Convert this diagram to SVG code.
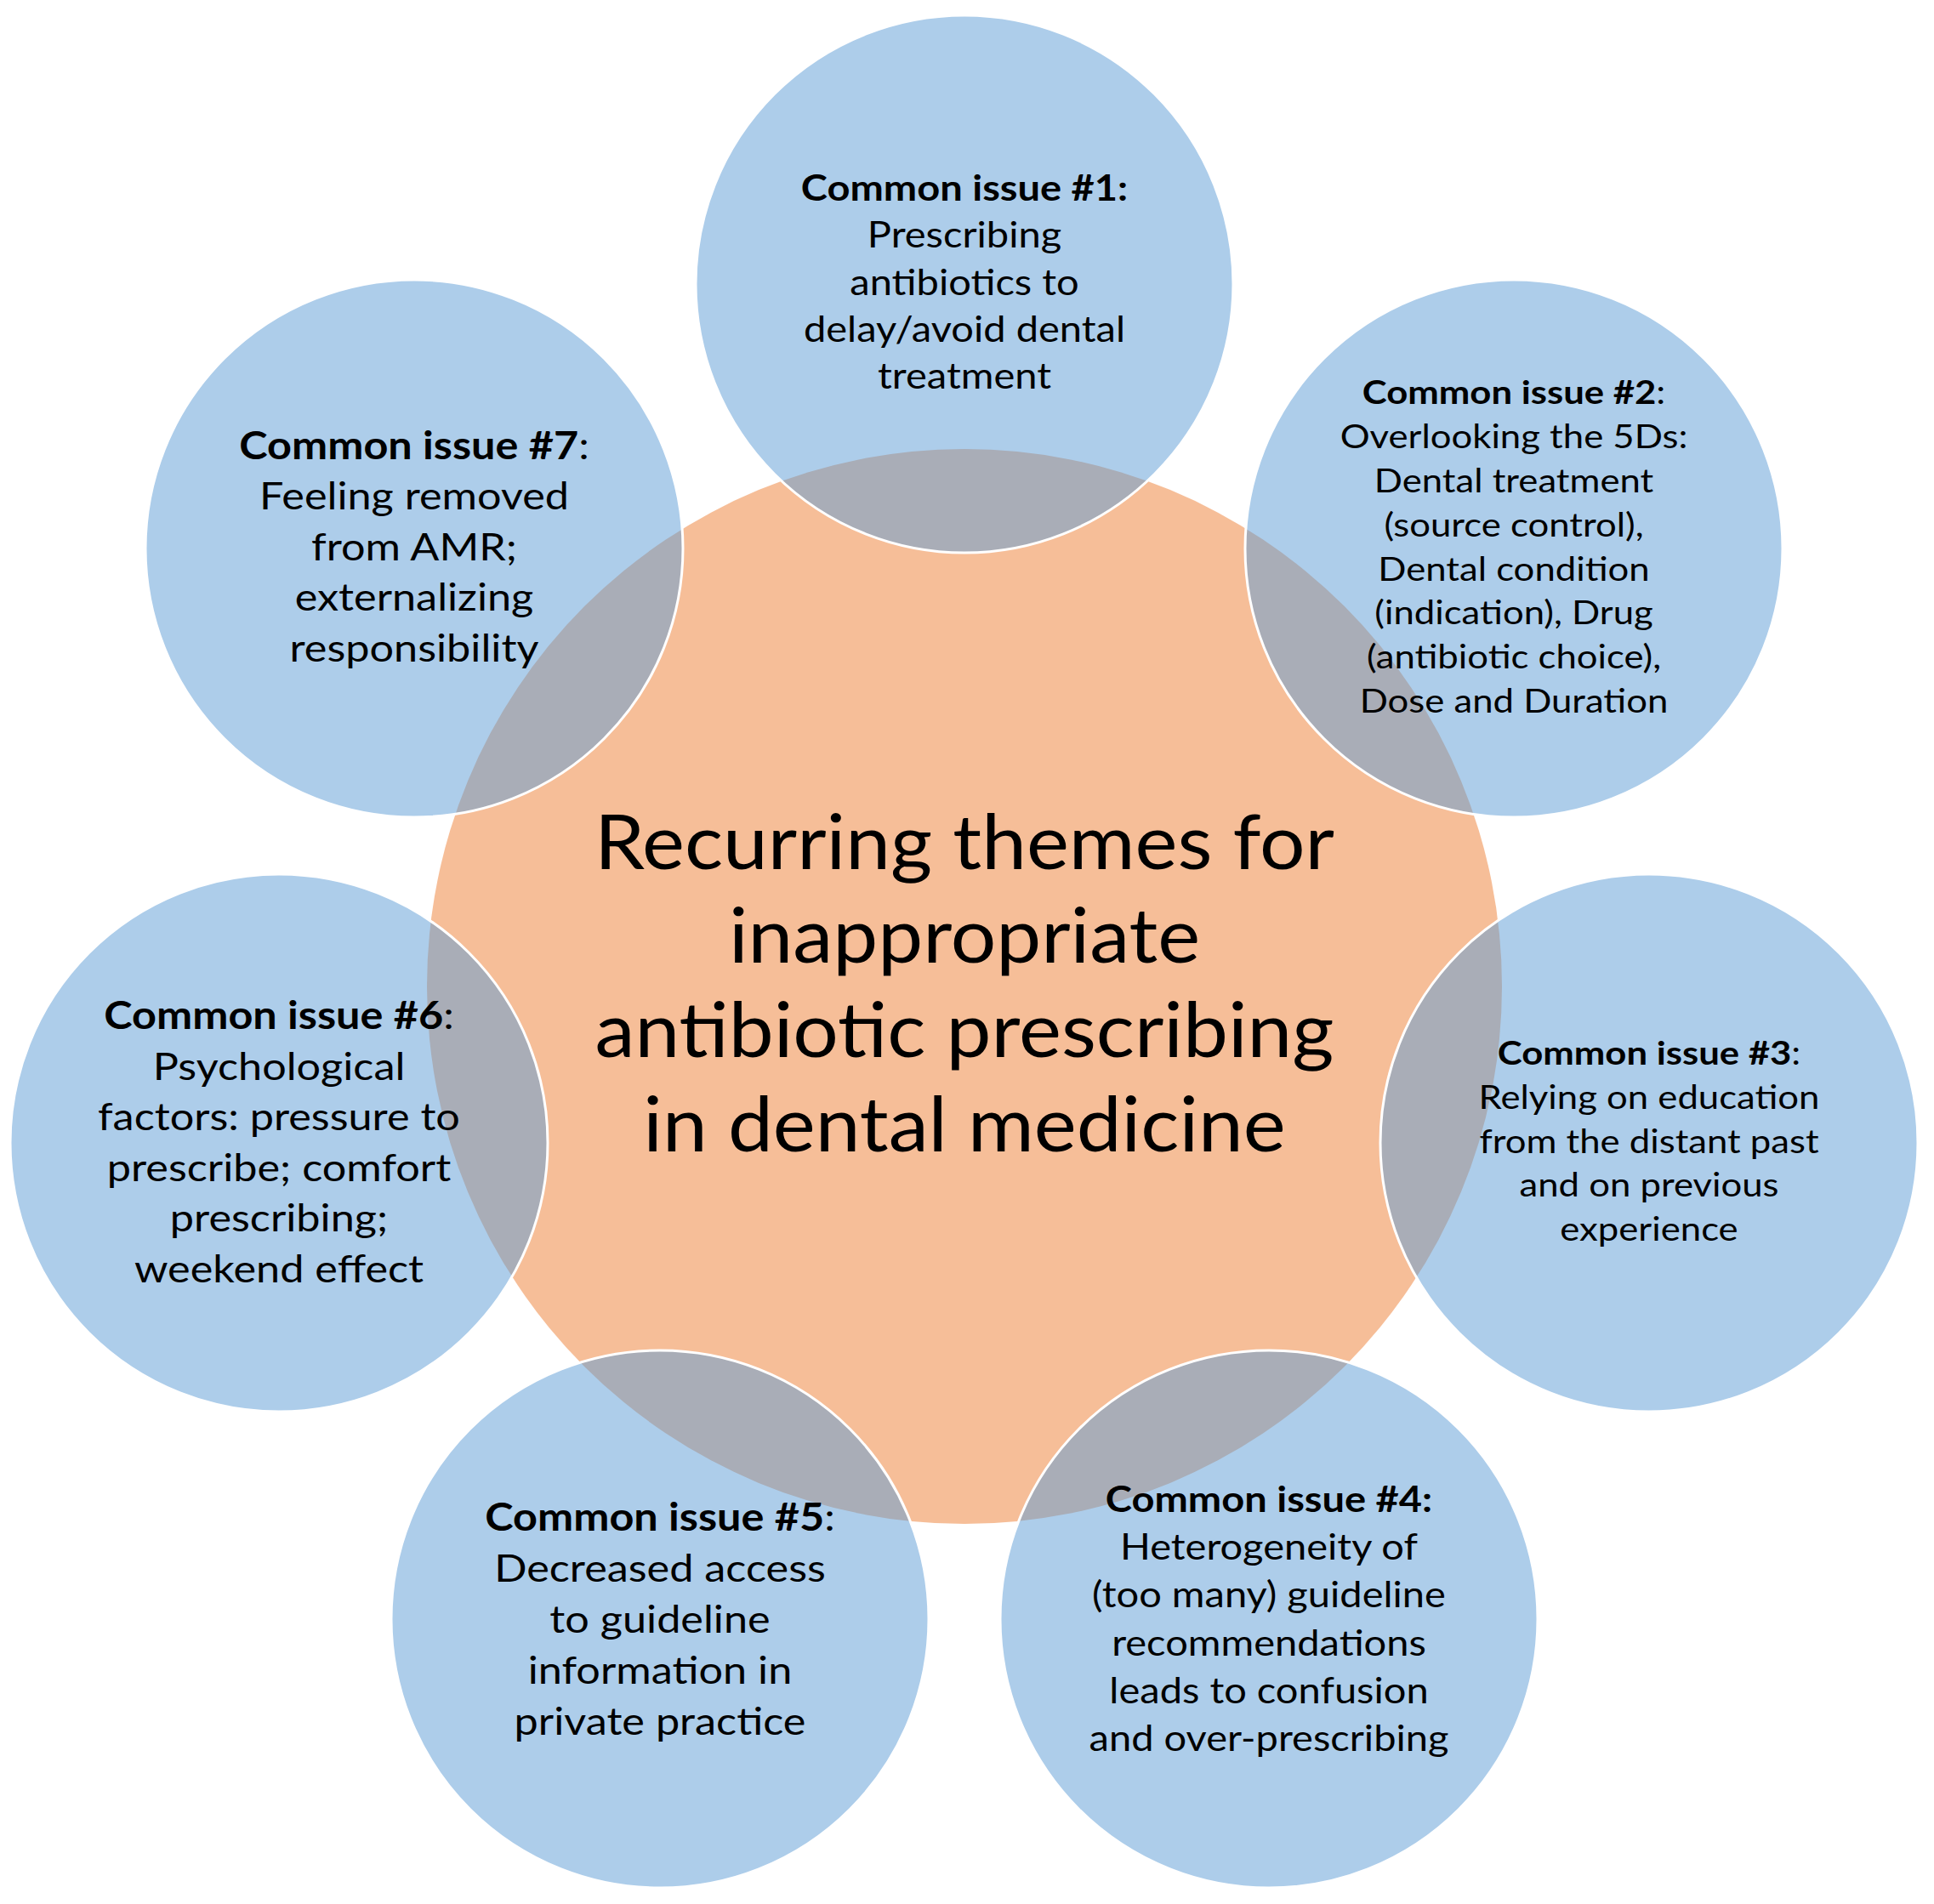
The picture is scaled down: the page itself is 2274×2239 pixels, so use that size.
<svg xmlns="http://www.w3.org/2000/svg" width="2274" height="2239" viewBox="0 0 2274 2239">
<style>
.bg{fill:#ffffff}
.center{fill:#ED7D31;fill-opacity:0.5}
.issue{fill:#5B9BD5;fill-opacity:0.5;stroke:#ffffff;stroke-width:3}
text{font-family:Lato,"Liberation Sans",sans-serif;fill:#000;text-anchor:middle}
.title{font-size:90px}
.s1{font-size:42px}
.s2{font-size:39px}
.s3{font-size:45px}
.b{font-weight:bold}
</style>
<rect class="bg" x="0" y="0" width="2274" height="2239"/>
<g id="center-node">
<circle class="center" cx="1134" cy="1160" r="632"/>
<text class="title" transform="translate(1134 0) scale(1.05 1)"><tspan x="0" y="1022">Recurring themes for</tspan><tspan x="0" y="1132">inappropriate</tspan><tspan x="0" y="1243">antibiotic prescribing</tspan><tspan x="0" y="1354">in dental medicine</tspan></text>
</g>
<g id="issue-1">
<circle class="issue" cx="1134" cy="334" r="316"/>
<text class="s1" transform="translate(1134 0) scale(1.12 1)"><tspan x="0" y="236" class="b">Common issue #1:</tspan><tspan x="0" y="291">Prescribing</tspan><tspan x="0" y="347">antibiotics to</tspan><tspan x="0" y="402">delay/avoid dental</tspan><tspan x="0" y="457">treatment</tspan></text>
</g>
<g id="issue-2">
<circle class="issue" cx="1780" cy="645" r="316"/>
<text class="s2" transform="translate(1780 0) scale(1.12 1)"><tspan x="0" y="475"><tspan class="b">Common issue #2</tspan>:</tspan><tspan x="0" y="527">Overlooking the 5Ds:</tspan><tspan x="0" y="579">Dental treatment</tspan><tspan x="0" y="631">(source control),</tspan><tspan x="0" y="683">Dental condition</tspan><tspan x="0" y="734">(indication), Drug</tspan><tspan x="0" y="786">(antibiotic choice),</tspan><tspan x="0" y="838">Dose and Duration</tspan></text>
</g>
<g id="issue-3">
<circle class="issue" cx="1939" cy="1344" r="316"/>
<text class="s2" transform="translate(1939 0) scale(1.12 1)"><tspan x="0" y="1252"><tspan class="b">Common issue #3</tspan>:</tspan><tspan x="0" y="1304">Relying on education</tspan><tspan x="0" y="1356">from the distant past</tspan><tspan x="0" y="1407">and on previous</tspan><tspan x="0" y="1459">experience</tspan></text>
</g>
<g id="issue-4">
<circle class="issue" cx="1492" cy="1904" r="316"/>
<text class="s1" transform="translate(1492 0) scale(1.12 1)"><tspan x="0" y="1778" class="b">Common issue #4:</tspan><tspan x="0" y="1834">Heterogeneity of</tspan><tspan x="0" y="1890">(too many) guideline</tspan><tspan x="0" y="1947">recommendations</tspan><tspan x="0" y="2003">leads to confusion</tspan><tspan x="0" y="2059">and over-prescribing</tspan></text>
</g>
<g id="issue-5">
<circle class="issue" cx="776" cy="1904" r="316"/>
<text class="s3" transform="translate(776 0) scale(1.12 1)"><tspan x="0" y="1800"><tspan class="b">Common issue #5</tspan>:</tspan><tspan x="0" y="1860">Decreased access</tspan><tspan x="0" y="1920">to guideline</tspan><tspan x="0" y="1980">information in</tspan><tspan x="0" y="2040">private practice</tspan></text>
</g>
<g id="issue-6">
<circle class="issue" cx="328" cy="1344" r="316"/>
<text class="s3" transform="translate(328 0) scale(1.12 1)"><tspan x="0" y="1210"><tspan class="b">Common issue #6</tspan>:</tspan><tspan x="0" y="1270">Psychological</tspan><tspan x="0" y="1329">factors: pressure to</tspan><tspan x="0" y="1389">prescribe; comfort</tspan><tspan x="0" y="1448">prescribing;</tspan><tspan x="0" y="1508">weekend effect</tspan></text>
</g>
<g id="issue-7">
<circle class="issue" cx="487" cy="645" r="316"/>
<text class="s3" transform="translate(487 0) scale(1.12 1)"><tspan x="0" y="540"><tspan class="b">Common issue #7</tspan>:</tspan><tspan x="0" y="599">Feeling removed</tspan><tspan x="0" y="659">from AMR;</tspan><tspan x="0" y="718">externalizing</tspan><tspan x="0" y="778">responsibility</tspan></text>
</g>
<g id="connectors"/>
</svg>
